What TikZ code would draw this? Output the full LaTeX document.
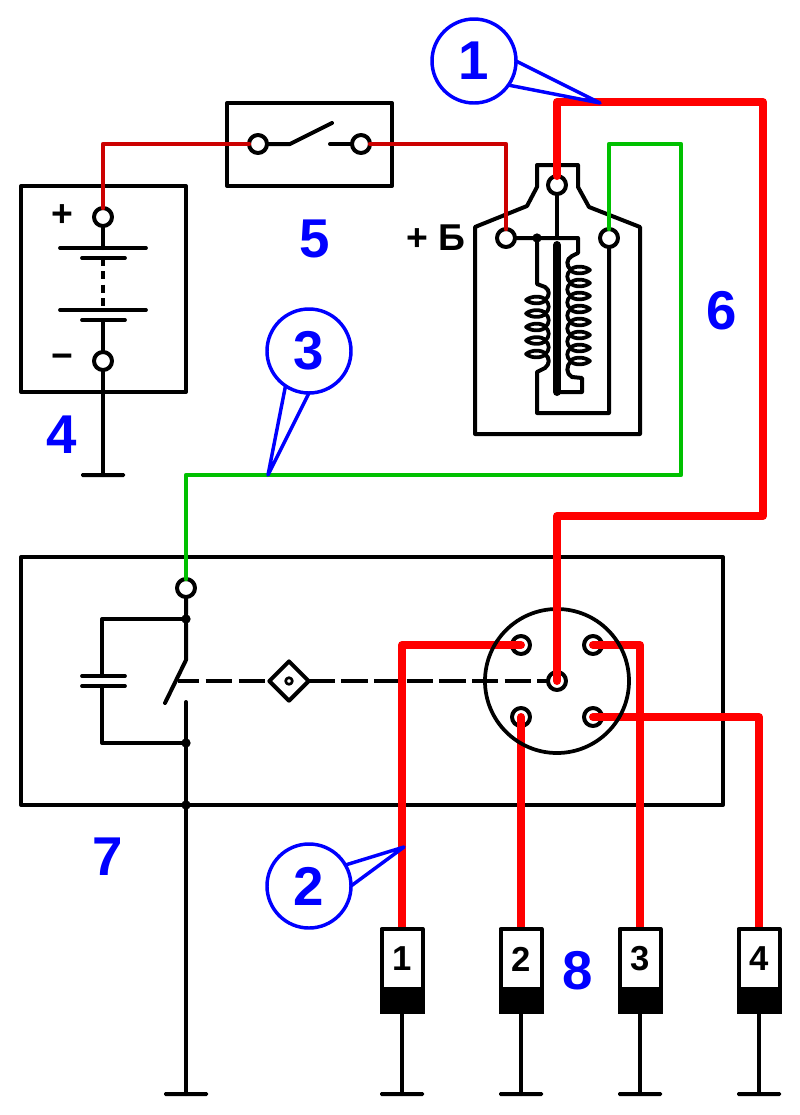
\documentclass[tikz,border=0pt]{standalone}
\usepackage{fontspec}
\setmainfont{Liberation Sans}
\usetikzlibrary{shapes.geometric}
\tikzset{x=0.75pt,y=-0.75pt}

\begin{document}
\begin{tikzpicture}
% Style
[
    line cap=round, line join=round, line width=3pt,
    outer sep=0pt,
    box/.style={draw, inner sep=0pt},
    terminal/.style={circle, draw, fill=white, minimum size=13.5pt, inner sep=0pt},
    junction/.style={circle, fill=black, minimum size=7pt, inner sep=0pt},
    ground bar/.style={fill=black, rounded corners=1pt, minimum width=33pt, minimum height=3pt, inner sep=0pt},
    thin wire/.style={line width=3.4pt},
    thick wire/.style={line width=6pt, wire_red},
    plate/.style={line width=2.8pt},
    number/.style={blue_mark, font=\bfseries\fontsize{41}{41}\selectfont, inner sep=0pt},
    sign/.style={font=\bfseries\fontsize{28}{28}\selectfont, inner sep=0pt},
    callout/.style={circle, draw=blue_mark, line width=2.6pt, minimum size=63pt, inner sep=0pt},
    leader/.style={blue_mark, line width=2.6pt}
]

% Define: Colors
\colorlet{wire_red}{red}
\definecolor{feed_red}{RGB}{204,0,0}
\definecolor{wire_green}{RGB}{0,192,0}
\definecolor{blue_mark}{RGB}{0,0,255}

\useasboundingbox (0,0) rectangle (800,1115);

%================================== Blocks ===================================
% Draw: Battery
\node (battery) [box, minimum width=123.75pt, minimum height=154.5pt] at (103.5,289) {};
\node (bat_p) [terminal] at (103,217) {};
\node (bat_n) [terminal] at (103,361) {};
\node (bat_plus) [sign] at (62,216) {+};
\node (bat_minus) [sign] at (62,361) {\textminus};
\node (bat_gnd) [ground bar] at (103,475) {};
\coordinate (cell_a) at (103,248);
\coordinate (cell_b) at (103,258);
\coordinate (cell_c) at (103,310);
\coordinate (cell_d) at (103,320);
\draw (bat_p) -- (cell_a);
\draw [plate] (60,248) -- (146,248);
\draw [plate] (82,258) -- (125,258);
\draw [dash pattern=on 6pt off 4pt, line cap=butt] (cell_b) -- (cell_c);
\draw [plate] (60,310) -- (146,310);
\draw [plate] (82,320) -- (125,320);
\draw (cell_d) -- (bat_n);
\draw (bat_n) -- (bat_gnd.center);

% Draw: Switch
\node (switch) [box, minimum width=123.75pt, minimum height=62.25pt] at (309.5,144.5) {};
\node (sw_a) [terminal] at (258,144) {};
\node (sw_b) [terminal] at (361,144) {};
\coordinate (sw_knee) at (290,144);
\coordinate (sw_tip) at (332,123);
\coordinate (sw_rest) at (330,144);
\draw (sw_a) -- (sw_knee) -- (sw_tip);
\draw (sw_rest) -- (sw_b);

% Draw: Coil
\draw (475,227) -- (527,206) -- (537,187) -- (537,165) -- (578,165) -- (578,187)
    -- (589,207) -- (640,227) -- (640,434) -- (475,434) -- cycle;
\node (coil_l) [terminal] at (506,238) {};
\node (coil_c) [terminal] at (557,185) {};
\node (coil_r) [terminal] at (609,238) {};
\node (coil_dot) [junction] at (537,238) {};
\coordinate (core_top) at (557,245);
\coordinate (core_end) at (557,392);
\draw (coil_c) -- (557,238);
\draw [line width=6pt] (core_top) -- (core_end);
\draw (coil_l) -- (578,238) -- (578,253) -- (572,256)
    .. controls (566,259) and (566,266) .. (571,270);
\foreach \y in {270,283,...,348} {
    \draw [line width=2.8pt] (571,\y) .. controls (566,\y+3) and (566,\y+10) .. (571,\y+13);
}
\foreach \y in {270,283,...,361} {
    \draw [line width=2.8pt] (570,\y) .. controls (575,\y-5) and (585,\y-4) .. (590,\y)
        .. controls (585,\y+4) and (575,\y+5) .. (570,\y);
}
\draw (571,361) .. controls (566,366) and (566,374) .. (572,377) -- (582,378) -- (582,392) -- (core_end);
\draw (coil_dot) -- (537,284) -- (545,287) .. controls (550,290) and (550,296) .. (545,300);
\foreach \y in {300,313.5,327,340.5} {
    \draw [line width=2.8pt] (545,\y) .. controls (550,\y+3) and (550,\y+10.5) .. (545,\y+13.5);
}
\foreach \y in {300,313.5,327,340.5,354} {
    \draw [line width=2.8pt] (546,\y) .. controls (541,\y-5) and (531,\y-4) .. (526,\y)
        .. controls (531,\y+4) and (541,\y+5) .. (546,\y);
}
\draw (545,354) .. controls (550,358) and (550,364) .. (545,368) -- (537,372) -- (537,413) -- (609,413) -- (coil_r);

% Draw: Breaker
\node (module) [box, minimum width=526.5pt, minimum height=186pt] at (372,681) {};
\node (mod_t) [terminal] at (186,588) {};
\node (dot_a) [junction] at (186,619) {};
\node (dot_b) [junction] at (186,743) {};
\node (dot_c) [junction] at (186,805) {};
\node (mod_gnd) [ground bar] at (186,1094) {};
\coordinate (blade_top) at (186,660);
\coordinate (blade_tip) at (165,703);
\coordinate (blade_mid) at (178,681);
\coordinate (contact) at (186,702);
\draw (mod_t) -- (dot_a) -- (blade_top) -- (blade_tip);
\draw (contact) -- (dot_b) -- (dot_c) -- (mod_gnd.center);
\draw (dot_a) -- (102,619) -- (102,676);
\draw (102,686) -- (102,743) -- (dot_b);
\draw [plate] (82,676) -- (125,676);
\draw [plate] (82,686) -- (125,686);

% Draw: Cam
\node (cam) [diamond, draw, aspect=1, minimum width=29.5pt, minimum height=29.5pt, inner sep=0pt] at (289,681) {};
\node (cam_dot) [circle, draw, line width=2pt, fill=white, minimum size=5pt, inner sep=0pt] at (289,681) {};

% Draw: Distributor
\node (dist_a) [terminal] at (521,645) {};
\node (dist_b) [terminal] at (593,645) {};
\node (dist_d) [terminal] at (521,717) {};
\node (dist_e) [terminal] at (593,717) {};
\node (dist_c) [terminal] at (557,681) {};
\draw [dash pattern=on 20pt off 4.8pt, dash phase=4pt, line cap=butt] (blade_mid) -- (cam.west);
\draw [dash pattern=on 19.7pt off 4.8pt, line cap=butt] (cam.east) -- (dist_c.west);

%=================================== Wires ===================================
\coordinate (red_a) at (763,102);
\coordinate (red_b) at (763,516);
\coordinate (green_a) at (681,475);
\coordinate (green_b) at (681,144);
\foreach \i/\x in {1/402,2/521,3/640,4/759} {
    \coordinate (plug_top\i) at (\x,932);
}

\draw [thin wire, feed_red] (bat_p.north) |- (sw_a.west);
\draw [thin wire, feed_red] (sw_b.east) -| (coil_l.north);
\draw [thin wire, wire_green] (mod_t.north) |- (green_a) -- (green_b) -| (coil_r.north);

\draw [thick wire] (dist_a.center) -| (plug_top1);
\draw [thick wire] (dist_d.center) -- (plug_top2);
\draw [thick wire] (dist_b.center) -| (plug_top3);
\draw [thick wire] (dist_e.center) -| (plug_top4);
\node (rotor) [circle, draw, line width=2.8pt, minimum size=108pt, inner sep=0pt] at (557,681) {};
\draw [thick wire] (coil_c.north) |- (red_a) -- (red_b) -| (dist_c.center);

%=================================== Plugs ===================================
\foreach \i/\x in {1/402,2/521,3/640,4/759} {
    \node (plug\i) [box, fill=white, minimum width=30.75pt, minimum height=45pt,
        font=\bfseries\fontsize{26}{26}\selectfont] at (\x,959) {\i};
    \node (plug_cap\i) [fill=black, minimum width=33.75pt, minimum height=18.75pt, inner sep=0pt] at (\x,1001.5) {};
    \node (plug_gnd\i) [ground bar] at (\x,1094) {};
    \draw (plug_cap\i.south) -- (plug_gnd\i.center);
}

%================================== Labels ===================================
\node (coil_sign) [sign] at (436,238) {+ Б};
\node (num4) [number] at (62,435) {4};
\node (num5) [number] at (315,239) {5};
\node (num6) [number] at (722,311) {6};
\node (num7) [number] at (108,857) {7};
\node (num8) [number] at (578,971) {8};

\node (call1) [callout, number] at (474,61) {1};
\node (call2) [callout, number] at (309,886) {2};
\node (call3) [callout, number] at (309,351) {3};
\coordinate (tip1) at (600,103);
\coordinate (tip2) at (404,847);
\coordinate (tip3) at (268,475);
\draw [leader] (call1.0) -- (tip1) -- (call1.-35);
\draw [leader] (call2.30) -- (tip2) -- (call2.0);
\draw [leader] (call3.236) -- (tip3) -- (call3.270);
\end{tikzpicture}
\end{document}
